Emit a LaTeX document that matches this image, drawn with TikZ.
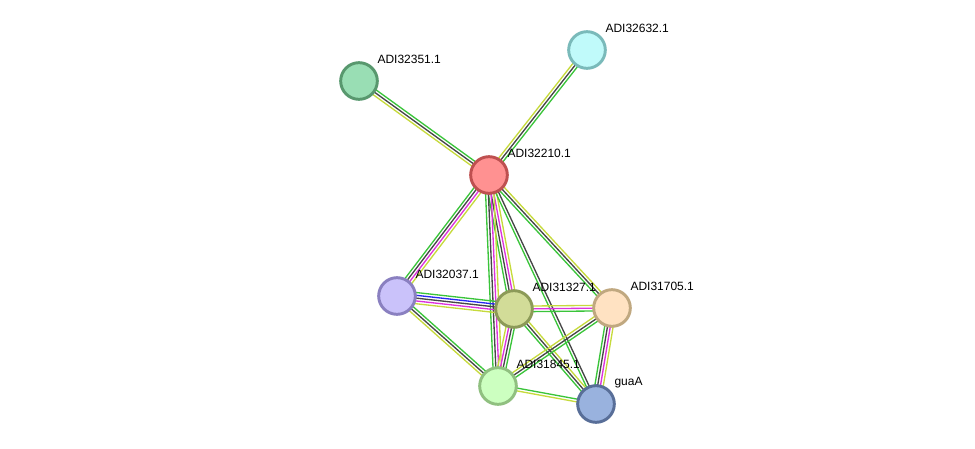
\documentclass[tikz,border=0pt]{standalone}
\usepackage{fontspec}
\setmainfont{Liberation Sans}
\usetikzlibrary{calc}
\pgfdeclarelayer{background}
\pgfsetlayers{background,main}

\definecolor{lgreen}{RGB}{58,196,58}
\definecolor{ldark}{RGB}{70,70,70}
\definecolor{lyellow}{RGB}{198,218,60}
\definecolor{lmagenta}{RGB}{220,50,220}
\definecolor{lblue}{RGB}{40,40,240}

\tikzset{every picture/.style={line width=0.75pt}}
\tikzset{
	prot/.style={circle, minimum size=27.5pt, inner sep=0pt, line width=2.2pt},
	lbl/.style={anchor=west, inner sep=0pt, font=\fontsize{9}{10}\selectfont},
	lnk/.style={line width=1pt}
}

% parallel evidence lines between two proteins: from, to, number of lines, colours
\newcommand{\ppilink}[4]{%
	\foreach \col [count=\k] in {#4} {
		\pgfmathsetmacro{\off}{(\k-(#3+1)/2)*2.1}
		\draw[lnk, \col] ($(#1)!\off pt!90:(#2)$) -- ($(#2)!\off pt!-90:(#1)$);
	}}

\begin{document}
\begin{tikzpicture}[x=0.75pt,y=0.75pt,yscale=-1,xscale=1]
	\useasboundingbox (0,0) rectangle (975,449);

	% Proteins
	\node [prot, fill={rgb, 255:red, 153; green, 222; blue, 180}, draw={rgb, 255:red, 88; green, 152; blue, 110}] (n32351) at (359,81) {};
	\node [prot, fill={rgb, 255:red, 192; green, 250; blue, 250}, draw={rgb, 255:red, 122; green, 186; blue, 186}] (n32632) at (587,50) {};
	\node [prot, fill={rgb, 255:red, 255; green, 145; blue, 145}, draw={rgb, 255:red, 190; green, 80; blue, 80}] (n32210) at (489,175) {};
	\node [prot, fill={rgb, 255:red, 202; green, 194; blue, 250}, draw={rgb, 255:red, 138; green, 128; blue, 192}] (n32037) at (397,296) {};
	\node [prot, fill={rgb, 255:red, 210; green, 220; blue, 152}, draw={rgb, 255:red, 140; green, 154; blue, 88}] (n31327) at (514,309) {};
	\node [prot, fill={rgb, 255:red, 255; green, 226; blue, 194}, draw={rgb, 255:red, 192; green, 168; blue, 128}] (n31705) at (612,308) {};
	\node [prot, fill={rgb, 255:red, 204; green, 255; blue, 192}, draw={rgb, 255:red, 144; green, 192; blue, 128}] (n31845) at (498,386) {};
	\node [prot, fill={rgb, 255:red, 153; green, 178; blue, 222}, draw={rgb, 255:red, 88; green, 110; blue, 152}] (nguaA) at (596,404) {};

	% Text Node
	\node [lbl] (t32351) at ($(n32351)+(18,-21.5)$) {ADI32351.1};
	\node [lbl] (t32632) at ($(n32632)+(18,-21.5)$) {ADI32632.1};
	\node [lbl] (t32210) at ($(n32210)+(18,-21.5)$) {ADI32210.1};
	\node [lbl] (t32037) at ($(n32037)+(18,-21.5)$) {ADI32037.1};
	\node [lbl] (t31327) at ($(n31327)+(18,-21.5)$) {ADI31327.1};
	\node [lbl] (t31705) at ($(n31705)+(18,-21.5)$) {ADI31705.1};
	\node [lbl] (t31845) at ($(n31845)+(18,-21.5)$) {ADI31845.1};
	\node [lbl] (tguaA) at ($(nguaA)+(18,-21.5)$) {guaA};

	% Links
	\begin{pgfonlayer}{background}
		\ppilink{n32351}{n32210}{3}{lgreen,ldark,lyellow}
		\ppilink{n32632}{n32210}{3}{lgreen,ldark,lyellow}
		\ppilink{n32210}{n32037}{4}{lyellow,lmagenta,ldark,lgreen}
		\ppilink{n32210}{n31327}{4}{lyellow,lmagenta,ldark,lgreen}
		\ppilink{n32210}{n31845}{4}{lyellow,lmagenta,ldark,lgreen}
		\ppilink{n32210}{nguaA}{2}{ldark,lgreen}
		\ppilink{n32210}{n31705}{3}{lyellow,ldark,lgreen}
		\ppilink{n32037}{n31327}{5}{lgreen,lblue,ldark,lmagenta,lyellow}
		\ppilink{n32037}{n31845}{3}{lgreen,ldark,lyellow}
		\ppilink{n31327}{n31705}{3}{lyellow,lmagenta,lgreen}
		\ppilink{n31327}{n31845}{4}{lgreen,ldark,lmagenta,lyellow}
		\ppilink{n31327}{nguaA}{3}{lyellow,ldark,lgreen}
		\ppilink{n31705}{n31845}{3}{lgreen,ldark,lyellow}
		\ppilink{n31705}{nguaA}{4}{lyellow,lmagenta,ldark,lgreen}
		\ppilink{n31845}{nguaA}{2}{lgreen,lyellow}
	\end{pgfonlayer}

\end{tikzpicture}
\end{document}
